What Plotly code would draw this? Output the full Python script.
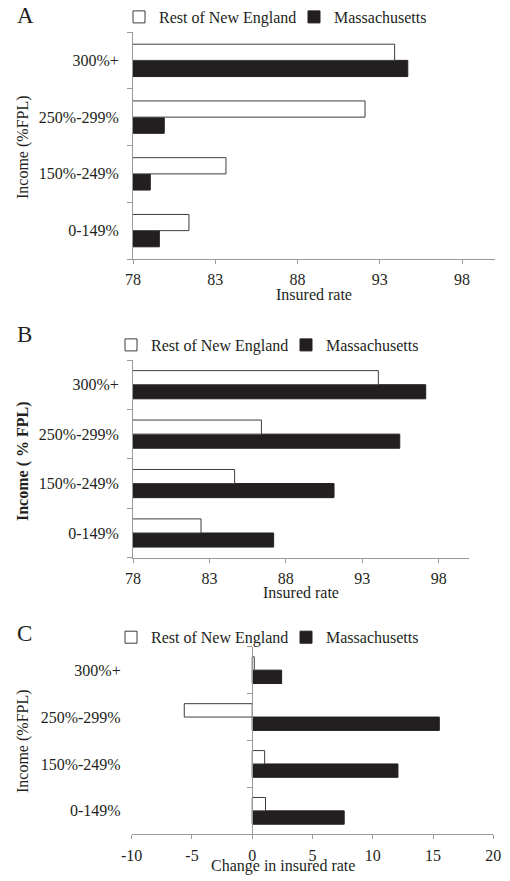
import plotly.graph_objects as go

# ---------------- data ----------------
categories = ["0-149%", "150%-249%", "250%-299%", "300%+"]

# Panel A: insured rate (%)
rest_a = [81.4, 83.65, 92.1, 93.9]
mass_a = [79.6, 79.05, 79.9, 94.7]

# Panel B: insured rate (%)
rest_b = [82.45, 84.65, 86.4, 94.05]
mass_b = [87.2, 91.15, 95.45, 97.15]

# Panel C: change in insured rate
rest_c = [1.1, 1.03, -5.64, 0.17]
mass_c = [7.63, 12.09, 15.52, 2.44]

ticks_ab = [78, 83, 88, 93, 98]
ticks_c = [-10, -5, 0, 5, 10, 15, 20]
range_ab = [78, 100]
range_c = [-10, 20]

series_names = ["Rest of New England", "Massachusetts"]
panel_letters = ["A", "B", "C"]

# ---------------- styling ----------------
W, H = 510, 881
FONT = "Liberation Serif"
TXT = "#231f20"
AX = "#9a9a9a"
BLACK = "#231f20"
OUTLINE = "#3c3c3c"


def px_x(p):
    return p / W


def px_y(p):
    return 1 - p / H


# plot areas in pixel coordinates (left, right, top, bottom)
boxes = [
    (133, 495, 32, 259),
    (133, 469.3, 360, 557.7),
    (131.7, 493.3, 646.7, 834.3),
]

fig = go.Figure()

panels = [(rest_a, mass_a), (rest_b, mass_b), (rest_c, mass_c)]
for i, (rest, mass) in enumerate(panels):
    n = "" if i == 0 else str(i + 1)
    lg = "legend" if i == 0 else f"legend{i + 1}"
    fig.add_trace(go.Bar(
        y=categories, x=mass, orientation="h", name=series_names[1],
        marker=dict(color=BLACK, line=dict(color=BLACK, width=1)),
        xaxis="x" + n, yaxis="y" + n, legend=lg, legendrank=2,
        hoverinfo="x+y",
    ))
    fig.add_trace(go.Bar(
        y=categories, x=rest, orientation="h", name=series_names[0],
        marker=dict(color="white", line=dict(color=OUTLINE, width=1)),
        xaxis="x" + n, yaxis="y" + n, legend=lg, legendrank=1,
        hoverinfo="x+y",
    ))

# empty trace so the zero-line axis of panel C is created
fig.add_trace(go.Scatter(x=[], y=[], xaxis="x3", yaxis="y4", showlegend=False,
                         hoverinfo="skip"))

tickfont = dict(size=16, family=FONT, color=TXT)

layout = dict(
    width=W, height=H,
    margin=dict(l=0, r=0, t=0, b=0),
    paper_bgcolor="white", plot_bgcolor="white",
    barmode="group", bargap=0.43, bargroupgap=0,
    font=dict(family=FONT, size=16, color=TXT),
    showlegend=True,
)

legend_y = [16.7, 345, 637.3]
legend_x = [119, 111, 111]
annotations = []
for i, (l, r, t, b) in enumerate(boxes):
    n = "" if i == 0 else str(i + 1)
    xr = range_c if i == 2 else range_ab
    tv = ticks_c if i == 2 else ticks_ab
    layout["xaxis" + n] = dict(
        domain=[px_x(l), px_x(r)], anchor="y" + n, range=xr,
        tickmode="array", tickvals=tv, ticktext=[str(v) for v in tv],
        ticks="outside", ticklen=4,
        tickcolor=AX, showline=True, linecolor=AX, linewidth=1,
        showgrid=False, zeroline=False, ticklabelstandoff=2,
        tickfont=tickfont, automargin=False,
    )
    ycfg = dict(
        domain=[px_y(b), px_y(t)], anchor="x" + n, type="category",
        categoryorder="array", categoryarray=categories,
        showgrid=False, zeroline=False, tickfont=tickfont,
        ticklabelstandoff=10, automargin=False,
    )
    if i < 2:
        ycfg.update(showline=True, linecolor=AX, linewidth=1,
                    ticks="outside", ticklen=5, tickcolor=AX,
                    tickson="boundaries")
    else:
        ycfg.update(showline=False, ticks="outside", ticklen=5,
                    tickcolor="rgba(0,0,0,0)", tickson="boundaries")
    layout["yaxis" + n] = ycfg

    lkey = "legend" if i == 0 else f"legend{i + 1}"
    layout[lkey] = dict(
        orientation="h", x=px_x(legend_x[i]), xanchor="left",
        y=px_y(legend_y[i]), yanchor="middle",
        bgcolor="rgba(0,0,0,0)", font=dict(size=16, family=FONT, color=TXT),
        itemclick=False, itemdoubleclick=False, entrywidth=130,
        entrywidthmode="pixels", tracegroupgap=0, itemwidth=30,
    )

# zero-line axis for panel C
l, r, t, b = boxes[2]
zero_pos = px_x(l) + (0 - range_c[0]) / (range_c[1] - range_c[0]) * (px_x(r) - px_x(l))
layout["yaxis4"] = dict(
    overlaying="y3", anchor="free", position=zero_pos, side="left",
    range=[-0.5, len(categories) - 0.5], tickmode="array",
    tickvals=[k - 0.5 for k in range(len(categories) + 1)],
    ticks="outside", ticklen=5, tickcolor=AX, showline=True, linecolor=AX,
    linewidth=1, showticklabels=False, showgrid=False, zeroline=False,
    automargin=False,
)

# panel letters
letter_pos = [(15, 15.5), (15, 335), (15, 633.5)]
for letter, (x, y) in zip(panel_letters, letter_pos):
    annotations.append(dict(
        text=letter, x=px_x(x), y=px_y(y), xref="paper", yref="paper",
        xanchor="left", yanchor="middle", showarrow=False,
        font=dict(size=23, family=FONT, color=TXT),
    ))

# x-axis titles
xtitles = [("Insured rate", 314, 295), ("Insured rate", 301, 592),
           ("Change in insured rate", 283, 866)]
for txt, x, y in xtitles:
    annotations.append(dict(
        text=txt, x=px_x(x), y=px_y(y), xref="paper", yref="paper",
        xanchor="center", yanchor="middle", showarrow=False,
        font=dict(size=16, family=FONT, color=TXT),
    ))

# y-axis titles
ytitles = [("Income (%FPL)", 147), ("<b>Income ( % FPL)</b>", 461),
           ("Income (%FPL)", 741)]
for txt, y in ytitles:
    annotations.append(dict(
        text=txt, x=px_x(23), y=px_y(y), xref="paper", yref="paper",
        xanchor="center", yanchor="middle", showarrow=False, textangle=-90,
        font=dict(size=16, family=FONT, color=TXT),
    ))

layout["annotations"] = annotations
fig.update_layout(**layout)

# remove the page's default body margin so the 510x881 figure fills the window
fig.write_html(
    "out.html",
    config={"displayModeBar": False},
    post_script="document.body.style.margin='0';document.body.style.overflow='hidden';",
)
